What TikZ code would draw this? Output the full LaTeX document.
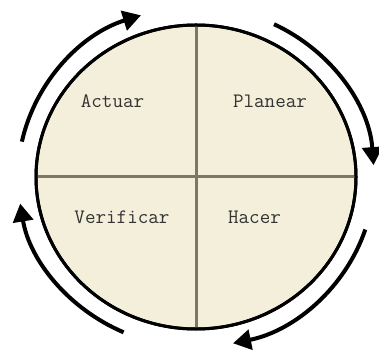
\documentclass[tikz,border=0pt]{standalone}
\usepackage{fontspec}
\usepackage{xcolor}
\usepackage{tikz}
\usetikzlibrary{arrows.meta}

\definecolor{fondo}{RGB}{243,239,219}
\definecolor{divisor}{RGB}{125,119,99}

\begin{document}
\begin{tikzpicture}[
  x=1pt, y=1pt,
  etiqueta/.style={font=\fontsize{20.5}{22}\selectfont\ttfamily, text=black!80, inner sep=0pt},
  borde/.style={draw=black, line width=3pt, fill=fondo},
  linea/.style={draw=divisor, line width=3pt},
  flecha/.style={-{Triangle[length=18pt, width=20pt]}, line width=4pt}
]
\useasboundingbox (0,0) rectangle (379,350);
\coordinate (centro) at (196,173);

% circulo y cuadrantes
\draw[borde] (centro) ellipse[x radius=160, y radius=152];
\begin{scope}
  \clip (centro) ellipse[x radius=160, y radius=152];
  \draw[linea] ([yshift=-160pt]centro) -- ([yshift=160pt]centro);
  \draw[linea] ([xshift=-170pt]centro) -- ([xshift=170pt]centro);
\end{scope}
\draw[draw=black, line width=3pt] (centro) ellipse[x radius=160, y radius=152];

\node[etiqueta] (actuar) at (112.5,249) {Actuar};
\node[etiqueta] (planear) at (270,249) {Planear};
\node[etiqueta] (verificar) at (122,133) {Verificar};
\node[etiqueta] (hacer) at (254.5,133) {Hacer};

% flechas del ciclo
\draw[flecha] ([shift={(168:178 and 170)}]centro) arc[start angle=168, end angle=108, x radius=178, y radius=170];
\draw[flecha] ([shift={(64:178 and 170)}]centro) arc[start angle=64, end angle=4, x radius=178, y radius=170];
\draw[flecha] ([shift={(-18:178 and 170)}]centro) arc[start angle=-18, end angle=-78, x radius=178, y radius=170];
\draw[flecha] ([shift={(246:178 and 170)}]centro) arc[start angle=246, end angle=189, x radius=178, y radius=170];
\end{tikzpicture}
\end{document}
